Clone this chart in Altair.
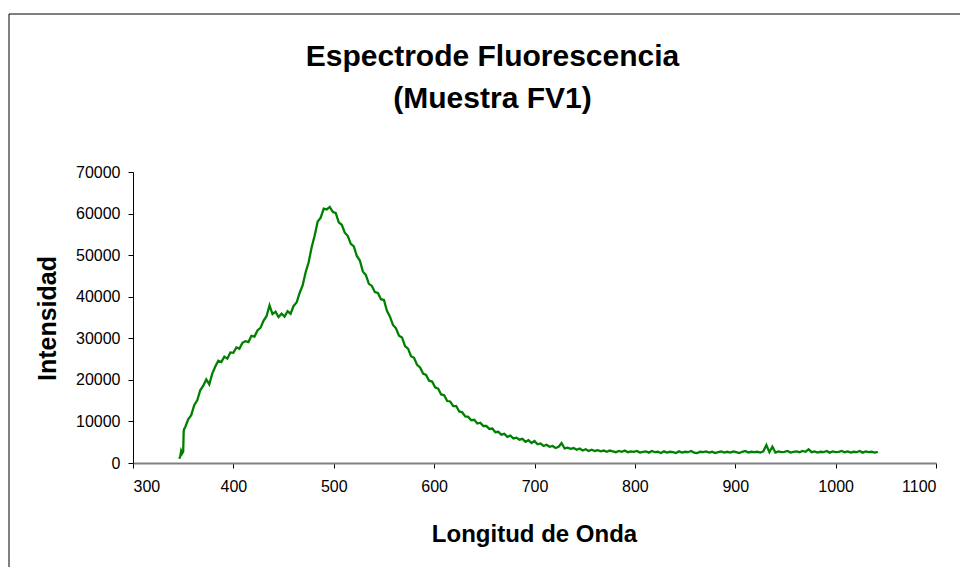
import altair as alt
import pandas as pd

# Start of the spectrum (before the jump near 351 nm)
start_wl = [346, 347, 348, 349, 350, 350.5, 351]
start_int = [1000, 1500, 2900, 2300, 2700, 7600, 8200]

# Main spectrum, one row per 30 nm (3 nm steps) starting at 352 nm
main_int = [
    8600, 10500, 11500, 13900, 15100, 17500, 18600, 20100, 18900, 21500,   # 352-379
    23200, 24600, 24300, 25600, 25100, 26600, 26500, 27800, 27500, 28900,  # 382-409
    29300, 29100, 30600, 30400, 31900, 32500, 34200, 35300, 37900, 35800,  # 412-439
    36400, 35100, 35900, 35200, 36500, 35900, 37800, 38600, 40900, 42700,  # 442-469
    45900, 48300, 51900, 54700, 58100, 59000, 61200, 61000, 61600, 60400,  # 472-499
    60100, 57900, 57300, 55400, 54600, 52700, 52100, 49800, 48700, 46100,  # 502-529
    45200, 43100, 42600, 41100, 40900, 39400, 39200, 36600, 35200, 33200,  # 532-559
    32400, 30600, 30200, 28100, 27500, 25700, 25300, 23600, 23000, 21500,  # 562-589
    21200, 19800, 19600, 18200, 17900, 16500, 16300, 14900, 14800, 13700,  # 592-619
    13700, 12400, 12200, 11200, 11100, 10300, 10400, 9500, 9700, 8900,     # 622-649
    8900, 8200, 8300, 7400, 7500, 6800, 7000, 6300, 6600, 5900,            # 652-679
    6100, 5600, 5800, 5100, 5500, 4800, 5300, 4500, 4700, 4100,            # 682-709
    4400, 3900, 4100, 3600, 3900, 4800, 3500, 3700, 3400, 3600,            # 712-739
    3200, 3500, 3000, 3300, 2900, 3200, 2900, 3100, 2800, 3000,            # 742-769
    2700, 3000, 2800, 2600, 2900, 2700, 3000, 2600, 2800, 2700,            # 772-799
    2900, 2500, 2700, 2800, 2500, 2900, 2600, 2700, 2400, 2800,            # 802-829
    2500, 2700, 2600, 2400, 2800, 2500, 2700, 2600, 2900, 2500,            # 832-859
    2400, 2700, 2600, 2800, 2500, 2700, 2400, 2600, 2800, 2500,            # 862-889
    2700, 2500, 2800, 2600, 2400, 2700, 2900, 2500, 2700, 2600,            # 892-919
    2700, 2500, 2800, 4300, 2600, 3900, 2500, 2800, 2600, 2700,            # 922-949
    2900, 2500, 2700, 2800, 2600, 2900, 2700, 3300, 2600, 2800,            # 952-979
    2500, 2700, 2600, 2900, 2500, 2800, 2600, 2700, 2900, 2600,            # 982-1009
    2800, 2500, 2700, 2600, 2900, 2500, 2800, 2600, 2700, 2500,            # 1012-1039
    2700,                                                                   # 1042
]
main_wl = list(range(352, 352 + 3 * len(main_int), 3))

x_ticks = [300, 400, 500, 600, 700, 800, 900, 1000, 1100]
y_ticks = [0, 10000, 20000, 30000, 40000, 50000, 60000, 70000]

df = pd.DataFrame({
    "wl": start_wl + main_wl,
    "inten": start_int + main_int,
})

FONT = "Liberation Sans"

frame = alt.Chart(pd.DataFrame({"a": [0]})).mark_rect(
    fill=None, stroke="black", strokeWidth=1
).encode(
    x=alt.value(-124), x2=alt.value(1000),
    y=alt.value(-158), y2=alt.value(600),
)

line = alt.Chart(df).mark_line(color="#008000", strokeWidth=2.3).encode(
    x=alt.X("wl:Q",
            scale=alt.Scale(domain=[300, 1100], nice=False, zero=False),
            axis=alt.Axis(values=x_ticks, format="d", title="Longitud de Onda",
                          grid=False,
                          domainColor="#808080", domainWidth=2,
                          tickColor="black", tickSize=5, labelPadding=10,
                          titleFontSize=24, titleX=401, titleY=71,
                          titleBaseline="middle", titleAlign="center")),
    y=alt.Y("inten:Q",
            scale=alt.Scale(domain=[0, 70000], nice=False),
            axis=alt.Axis(values=y_ticks, format="d", title="Intensidad",
                          grid=False,
                          domainColor="black", domainWidth=1,
                          tickColor="black", tickSize=5, labelPadding=8,
                          titleFontSize=25, titleX=-86, titleY=146,
                          titleAngle=270, titleBaseline="middle",
                          titleAlign="center")),
    order="wl:Q",
)

chart = alt.layer(frame, line).properties(
    width=803, height=291,
    background="white",
    title=alt.TitleParams(
        ["Espectrode Fluorescencia", "(Muestra FV1)"],
        fontSize=30, font=FONT, fontWeight="bold", color="black",
        lineHeight=42, anchor="middle", dx=-42, offset=0, dy=100,
    ),
    autosize=alt.AutoSizeParams(type="none"),
    padding={"left": 133, "top": 172, "right": 24, "bottom": 104},
).configure_view(stroke=None).configure_axis(
    grid=False,
    labelFont=FONT, labelFontSize=16, labelColor="black",
    titleFont=FONT, titleFontWeight="bold", titleColor="black",
)

chart.save("out.html", embed_options={"renderer": "svg", "actions": False})
